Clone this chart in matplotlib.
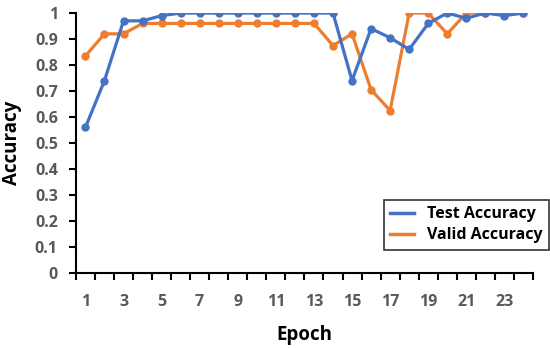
import matplotlib
matplotlib.use("Agg")
import matplotlib.pyplot as plt
from matplotlib.lines import Line2D
import numpy as np

plt.rcParams['font.family'] = ['Open Sans', 'DejaVu Sans']

epochs = list(range(1, 25))
test_acc = [0.56, 0.74, 0.97, 0.97, 0.99, 1.0, 1.0, 1.0, 1.0, 1.0, 1.0, 1.0, 1.0, 1.0,
            0.74, 0.94, 0.905, 0.86, 0.96, 1.0, 0.98, 1.0, 0.99, 1.0]
valid_acc = [0.835, 0.92, 0.92, 0.96, 0.96, 0.96, 0.96, 0.96, 0.96, 0.96, 0.96, 0.96, 0.96, 0.875,
             0.92, 0.705, 0.625, 1.0, 1.0, 0.92, 1.0, 1.0, 1.0, 1.0]
x_labels = [str(e) for e in epochs]
y_ticks = [0, 0.1, 0.2, 0.3, 0.4, 0.5, 0.6, 0.7, 0.8, 0.9, 1]
y_labels = ['0', '0.1', '0.2', '0.3', '0.4', '0.5', '0.6', '0.7', '0.8', '0.9', '1']
series_names = ['Test Accuracy', 'Valid Accuracy']

fig = plt.figure(figsize=(5.5, 3.48), dpi=100)
ax = fig.add_axes([0.138, 0.2155, 0.831, 0.747])

blue = '#4472C4'
orange = '#ED7D31'
ax.plot(epochs, test_acc, color=blue, lw=2.3, marker='o', ms=5, zorder=3)
ax.plot(epochs, valid_acc, color=orange, lw=2.3, marker='o', ms=5, zorder=2)

ax.set_xlim(0.5, 24.5)
ax.set_ylim(0, 1)
ax.set_yticks(y_ticks)
ax.set_yticklabels(y_labels)
ax.set_xticks(epochs[::2])
ax.set_xticklabels(x_labels[::2])
ax.set_xticks(np.arange(0.5, 25, 1), minor=True)

for s in ['top', 'right']:
    ax.spines[s].set_visible(False)
for s in ['left', 'bottom']:
    ax.spines[s].set_linewidth(1.5)
    ax.spines[s].set_color('black')

ax.tick_params(axis='y', length=5, width=1.5, direction='out', labelsize=11.5,
               labelcolor='#595959', pad=8)
ax.tick_params(axis='x', which='major', length=0, labelsize=11.5, labelcolor='#595959', pad=15)
ax.tick_params(axis='x', which='minor', length=5, width=1.5, direction='out')
for lab in ax.get_xticklabels() + ax.get_yticklabels():
    lab.set_fontweight('bold')

ax.set_xlabel('Epoch', fontsize=13.5, fontweight='bold', labelpad=11)
ax.set_ylabel('Accuracy', fontsize=13.5, fontweight='bold', labelpad=9)

handles = [Line2D([], [], color=blue, lw=2.5), Line2D([], [], color=orange, lw=2.5)]
leg = ax.legend(handles, series_names, loc='lower left', bbox_to_anchor=(0.674, 0.09),
                frameon=True, fancybox=False, edgecolor='black', fontsize=11.5,
                handlelength=1.5, borderpad=0.4, labelspacing=0.3, handletextpad=0.8,
                borderaxespad=0)
leg.get_frame().set_linewidth(1.2)
for t in leg.get_texts():
    t.set_fontweight('bold')

fig.savefig('out.png', dpi=100)
